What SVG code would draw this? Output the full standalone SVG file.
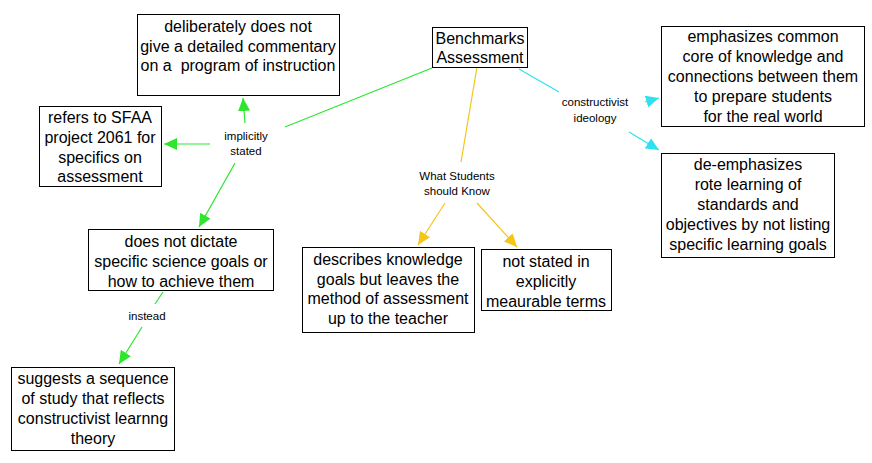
<svg xmlns="http://www.w3.org/2000/svg" width="872" height="463" viewBox="0 0 872 463">
<style>
.node rect{fill:#fff;stroke:#000;stroke-width:1}
.node text{font-family:"Liberation Sans",Arial,sans-serif;font-size:16px;fill:#000;text-anchor:middle}
.lbl{font-family:"Liberation Sans",Arial,sans-serif;font-size:11.5px;fill:#000;text-anchor:middle}
.g{stroke:#2EE62E;stroke-width:1.2;fill:none}
.y{stroke:#F5C518;stroke-width:1.2;fill:none}
.c{stroke:#2EE0F0;stroke-width:1.2;fill:none}
</style>
<defs>
<marker id="ag" markerUnits="userSpaceOnUse" markerWidth="14" markerHeight="12" refX="13" refY="6" orient="auto"><path d="M0,0 L13,6 L0,12 Z" fill="#2EE62E"/></marker>
<marker id="ay" markerUnits="userSpaceOnUse" markerWidth="14" markerHeight="12" refX="13" refY="6" orient="auto"><path d="M0,0 L13,6 L0,12 Z" fill="#F5C518"/></marker>
<marker id="ac" markerUnits="userSpaceOnUse" markerWidth="14" markerHeight="12" refX="13" refY="6" orient="auto"><path d="M0,0 L13,6 L0,12 Z" fill="#2EE0F0"/></marker>
</defs>
<rect width="872" height="463" fill="#fff"/>
<g id="connectors">
<line class="g" x1="432" y1="68" x2="285" y2="127"/>
<line class="g" x1="245" y1="123" x2="243" y2="98" marker-end="url(#ag)"/>
<line class="g" x1="210" y1="144" x2="164" y2="144" marker-end="url(#ag)"/>
<line class="g" x1="235" y1="163" x2="199" y2="227" marker-end="url(#ag)"/>
<line class="g" x1="163" y1="292" x2="155" y2="304"/>
<line class="g" x1="142" y1="327" x2="119" y2="364" marker-end="url(#ag)"/>
<line class="y" x1="477" y1="67" x2="461" y2="162"/>
<line class="y" x1="445" y1="203" x2="418" y2="245" marker-end="url(#ay)"/>
<line class="y" x1="477" y1="203" x2="517" y2="247" marker-end="url(#ay)"/>
<line class="c" x1="519" y1="69" x2="559" y2="92"/>
<line class="c" x1="645" y1="102" x2="659" y2="98" marker-end="url(#ac)"/>
<line class="c" x1="629" y1="132" x2="659" y2="150" marker-end="url(#ac)"/>
<text class="lbl" x="246" y="140">implicitly</text>
<text class="lbl" x="246" y="155">stated</text>
<text class="lbl" x="457" y="180">What Students</text>
<text class="lbl" x="457" y="195">should Know</text>
<text class="lbl" x="595" y="106">constructivist</text>
<text class="lbl" x="595" y="122">ideology</text>
<text class="lbl" x="147" y="320">instead</text>
</g>
<g id="benchmarks" class="node">
<rect x="432.5" y="27.5" width="95" height="40"/>
<text x="480" y="43.5">Benchmarks</text>
<text x="480" y="62.5">Assessment</text>
</g>
<g id="deliberately" class="node">
<rect x="137.5" y="14.5" width="202" height="81"/>
<text x="238" y="31.5">deliberately does not</text>
<text x="238" y="51.5">give a detailed commentary</text>
<text x="238" y="71" xml:space="preserve">on a  program of instruction</text>
</g>
<g id="refers" class="node">
<rect x="39.5" y="106.5" width="122" height="80"/>
<text x="100" y="122.5">refers to SFAA</text>
<text x="100" y="142.5">project 2061 for</text>
<text x="100" y="162.5">specifics on</text>
<text x="100" y="181.5">assessment</text>
</g>
<g id="dictate" class="node">
<rect x="88.5" y="229.5" width="185" height="61"/>
<text x="181" y="246.5">does not dictate</text>
<text x="181" y="266.5">specific science goals or</text>
<text x="181" y="286.5">how to achieve them</text>
</g>
<g id="suggests" class="node">
<rect x="11.5" y="367.5" width="163" height="83"/>
<text x="93" y="383.5">suggests a sequence</text>
<text x="93" y="403.5">of study that reflects</text>
<text x="93" y="423.5">constructivist learnng</text>
<text x="93" y="443.5">theory</text>
</g>
<g id="describes" class="node">
<rect x="302.5" y="247.5" width="172" height="85"/>
<text x="388" y="264.5">describes knowledge</text>
<text x="388" y="284.5">goals but leaves the</text>
<text x="388" y="303.5">method of assessment</text>
<text x="388" y="323.5">up to the teacher</text>
</g>
<g id="notstated" class="node">
<rect x="481.5" y="249.5" width="130" height="61"/>
<text x="546" y="266.5">not stated in</text>
<text x="546" y="286.5">explicitly</text>
<text x="546" y="306.5">meaurable terms</text>
</g>
<g id="emphasizes" class="node">
<rect x="661.5" y="26.5" width="203" height="100"/>
<text x="763" y="41.5">emphasizes common</text>
<text x="763" y="61.5">core of knowledge and</text>
<text x="763" y="81.5">connections between them</text>
<text x="763" y="102">to prepare students</text>
<text x="763" y="122">for the real world</text>
</g>
<g id="deemphasizes" class="node">
<rect x="661.5" y="153.5" width="173" height="104"/>
<text x="748" y="169.5">de-emphasizes</text>
<text x="748" y="189.5">rote learning of</text>
<text x="748" y="210">standards and</text>
<text x="748" y="230">objectives by not listing</text>
<text x="748" y="249.5">specific learning goals</text>
</g>
</svg>
